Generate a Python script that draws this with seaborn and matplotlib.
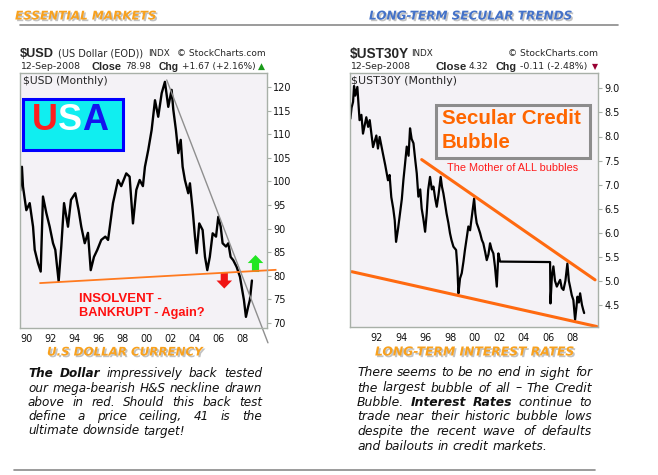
import matplotlib
matplotlib.use("Agg")
import matplotlib.pyplot as plt
import matplotlib.patheffects as pe
from matplotlib.patches import Rectangle, FancyArrow
import seaborn as sns

# ---------------- data ----------------
usd_years = [1989.45, 1989.6, 1989.69, 1989.97, 1990.25, 1990.53, 1990.67, 1990.94, 1991.17,
             1991.36, 1991.64, 1991.92, 1992.2, 1992.39, 1992.67, 1992.89, 1993.12, 1993.45,
             1993.7, 1994.06, 1994.34, 1994.56, 1994.85, 1995.12, 1995.35, 1995.62, 1995.9,
             1996.23, 1996.57, 1996.8, 1997.21, 1997.63, 1997.9, 1998.32, 1998.6, 1998.88,
             1999.16, 1999.44, 1999.71, 1999.88, 2000.16, 2000.44, 2000.72, 2000.99, 2001.28,
             2001.55, 2001.83, 2002.11, 2002.25, 2002.47, 2002.67, 2002.87, 2003.03, 2003.22,
             2003.5, 2003.64, 2003.87, 2004.06, 2004.2, 2004.42, 2004.7, 2004.9, 2005.09,
             2005.3, 2005.54, 2005.82, 2006.01, 2006.21, 2006.37, 2006.65, 2006.85, 2007.04,
             2007.26, 2007.54, 2007.82, 2007.96, 2008.15, 2008.32, 2008.51, 2008.65, 2008.82]
usd_values = [98.0, 103.1, 98.9, 93.9, 95.4, 90.4, 85.5, 82.7, 80.9,
              96.8, 93.3, 90.4, 86.9, 85.5, 78.8, 86.2, 95.4, 90.4,
              96.1, 97.5, 93.9, 90.4, 86.9, 89.1, 81.2, 84.0, 85.5,
              87.6, 88.3, 87.6, 95.4, 100.3, 99.0, 101.7, 101.0, 91.1,
              98.2, 100.3, 99.0, 103.1, 106.7, 110.9, 117.2, 113.7, 118.7,
              121.1, 115.8, 119.4, 115.2, 110.9, 106.0, 108.8, 103.1, 100.3,
              97.5, 99.6, 93.9, 88.3, 84.8, 91.1, 89.7, 84.0, 81.2,
              84.0, 89.0, 88.3, 92.5, 90.4, 86.9, 86.2, 86.9, 84.0,
              83.3, 81.9, 79.8, 77.7, 74.9, 71.3, 73.5, 74.9, 79.0]

ust_years = [1989.85, 1989.95, 1990.07, 1990.15, 1990.25, 1990.42, 1990.6, 1990.75, 1990.88,
             1991.15, 1991.3, 1991.43, 1991.7, 1991.97, 1992.1, 1992.24, 1992.51, 1992.7,
             1992.92, 1993.05, 1993.19, 1993.35, 1993.47, 1993.58, 1993.75, 1993.9, 1994.05,
             1994.18, 1994.3, 1994.45, 1994.6, 1994.72, 1994.85, 1995.0, 1995.15, 1995.27,
             1995.4, 1995.55, 1995.67, 1995.8, 1995.95, 1996.08, 1996.2, 1996.35, 1996.5,
             1996.63, 1996.78, 1996.9, 1997.05, 1997.22, 1997.33, 1997.44, 1997.58, 1997.7,
             1997.85, 1997.98, 1998.1, 1998.26, 1998.48, 1998.58, 1998.67, 1998.8, 1998.94,
             1999.08, 1999.2, 1999.35, 1999.48, 1999.62, 1999.76, 1999.95, 2000.05, 2000.16,
             2000.3, 2000.44, 2000.58, 2000.7, 2000.85, 2000.98, 2001.12, 2001.25, 2001.38,
             2001.52, 2001.65, 2001.8, 2001.93, 2002.07, 2006.15, 2006.18, 2006.3, 2006.42,
             2006.55, 2006.7, 2006.83, 2006.97, 2007.1, 2007.24, 2007.4, 2007.56, 2007.68,
             2007.78, 2007.92, 2008.05, 2008.19, 2008.3, 2008.38, 2008.5, 2008.6, 2008.75,
             2008.85, 2008.93]
ust_values = [8.37, 8.6, 8.72, 9.05, 8.85, 9.03, 8.34, 8.45, 8.06,
              8.40, 8.2, 8.34, 7.78, 8.02, 7.75, 7.99, 7.64, 7.4,
              7.09, 7.2, 6.74, 6.5, 6.26, 5.81, 6.1, 6.40, 6.7,
              7.1, 7.4, 7.79, 7.6, 8.17, 7.95, 7.86, 7.5, 7.23,
              6.75, 6.9, 6.5, 6.3, 6.02, 6.4, 6.89, 7.16, 6.9,
              6.96, 6.7, 6.54, 6.8, 7.16, 6.95, 6.82, 6.6, 6.4,
              6.2, 5.99, 5.85, 5.71, 5.64, 5.3, 4.74, 5.05, 5.16,
              5.4, 5.64, 5.9, 6.13, 6.05, 6.33, 6.71, 6.4, 6.2,
              6.1, 5.99, 5.85, 5.78, 5.6, 5.43, 5.55, 5.78, 5.65,
              5.57, 5.3, 4.88, 5.57, 5.40, 5.39, 4.53, 5.1, 5.30,
              5.0, 4.88, 4.95, 5.02, 4.85, 4.81, 5.0, 5.36, 5.0,
              4.88, 4.7, 4.6, 4.19, 4.45, 4.67, 4.55, 4.74, 4.5,
              4.4, 4.33]

usd_neckline_x = [1991.06, 2010.87]
usd_neckline_y = [78.45, 81.27]
usd_downtrend_x = [2001.7, 2010.16]
usd_downtrend_y = [121.5, 65.8]
ust_upper_x = [1995.67, 2009.82]
ust_upper_y = [7.52, 5.02]
ust_lower_x = [1989.96, 2009.96]
ust_lower_y = [5.19, 4.05]

usd_yticks = [70, 75, 80, 85, 90, 95, 100, 105, 110, 115, 120]
usd_xticks = [1990, 1992, 1994, 1996, 1998, 2000, 2002, 2004, 2006, 2008]
usd_xlabels = ["90", "92", "94", "96", "98", "00", "02", "04", "06", "08"]
ust_yticks = [4.5, 5.0, 5.5, 6.0, 6.5, 7.0, 7.5, 8.0, 8.5, 9.0]
ust_xticks = [1992, 1994, 1996, 1998, 2000, 2002, 2004, 2006, 2008]
ust_xlabels = ["92", "94", "96", "98", "00", "02", "04", "06", "08"]

left_par = [[("The", True), ("Dollar", True), ("impressively", False), ("back", False), ("tested", False)],
            [("our", False), ("mega-bearish", False), ("H&S", False), ("neckline", False), ("drawn", False)],
            [("above", False), ("in", False), ("red.", False), (" Should", False), ("this", False), ("back", False), ("test", False)],
            [("define", False), ("a", False), ("price", False), ("ceiling,", False), ("41", False), ("is", False), ("the", False)],
            [("ultimate", False), ("downside", False), ("target!", False)]]
right_par = [[("There", False), ("seems", False), ("to", False), ("be", False), ("no", False), ("end", False), ("in", False), ("sight", False), ("for", False)],
             [("the", False), ("largest", False), ("bubble", False), ("of", False), ("all", False), ("–", False), ("The", False), ("Credit", False)],
             [("Bubble.", False), (" Interest", True), ("Rates", True), ("continue", False), ("to", False)],
             [("trade", False), ("near", False), ("their", False), ("historic", False), ("bubble", False), ("lows", False)],
             [("despite", False), ("the", False), ("recent", False), ("wave", False), ("of", False), ("defaults", False)],
             [("and", False), ("bailouts", False), ("in", False), ("credit", False), ("markets.", False)]]

# ---------------- figure ----------------
sns.set_style("white")
plt.rcParams["font.family"] = ["DejaVu Sans"]
W, H = 658, 475
fig = plt.figure(figsize=(W / 100, H / 100), dpi=100, facecolor="white")
renderer = fig.canvas.get_renderer()


def px(x, y):
    return x / W, 1 - y / H


def fit_text(s, x0, x1, yc, base=8.0, **kw):
    t = fig.text(*px(x0, yc), s, fontsize=base, va="center", ha="left", **kw)
    w = t.get_window_extent(renderer).width
    t.set_fontsize(base * (x1 - x0) / w)
    return t


BG = "#F4F2F6"
SPINE = "#A8B0A8"
ax1 = fig.add_axes([20 / W, 1 - 328 / H, 247 / W, 255 / H])
ax2 = fig.add_axes([350 / W, 1 - 327 / H, 248 / W, 254 / H])
for ax in (ax1, ax2):
    ax.set_facecolor(BG)
    for s in ax.spines.values():
        s.set_color(SPINE)
        s.set_linewidth(1.0)
    ax.yaxis.tick_right()
    ax.tick_params(axis="both", length=3, width=0.8, color=SPINE, labelsize=7,
                   pad=1.5, labelcolor="#111111")

sns.lineplot(x=usd_years, y=usd_values, ax=ax1, color="black", linewidth=1.7,
             estimator=None, sort=False)
ax1.plot(usd_neckline_x, usd_neckline_y, color="#FF7A1F", lw=1.3, clip_on=False, solid_capstyle="butt")
ax1.plot(usd_downtrend_x, usd_downtrend_y, color="#8F8F8F", lw=1.0, clip_on=False)
ax1.set_xlim(1989.44, 2010.08)
ax1.set_ylim(68.94, 122.97)
ax1.set_yticks(usd_yticks)
ax1.set_yticklabels([str(v) for v in usd_yticks])
ax1.set_xticks(usd_xticks)
ax1.set_xticklabels(usd_xlabels)

# arrows (data coords)
ax1.add_patch(FancyArrow(2009.12, 80.8, 0, 3.6, width=0.6, head_width=1.3, head_length=1.7,
                         length_includes_head=True, color="#22E622", clip_on=False, lw=0))
ax1.add_patch(FancyArrow(2006.51, 80.6, 0, -3.3, width=0.6, head_width=1.3, head_length=1.7,
                         length_includes_head=True, color="#F01414", clip_on=False, lw=0))

sns.lineplot(x=ust_years, y=ust_values, ax=ax2, color="black", linewidth=1.6,
             estimator=None, sort=False)
ax2.plot(ust_upper_x, ust_upper_y, color="#FF6A10", lw=2.2, clip_on=False)
ax2.plot(ust_lower_x, ust_lower_y, color="#FF6A10", lw=2.2, clip_on=False)
ax2.set_xlim(1989.82, 2010.06)
ax2.set_ylim(4.04, 9.32)
ax2.set_yticks(ust_yticks)
ax2.set_yticklabels([f"{v:.1f}" for v in ust_yticks])
ax2.set_xticks(ust_xticks)
ax2.set_xticklabels(ust_xlabels)
for ax in (ax1, ax2):
    ax.set_xlabel("")
    ax.set_ylabel("")

# ---------------- decorations ----------------
fig.add_artist(plt.Line2D([20 / W, 618 / W], [1 - 25 / H, 1 - 25 / H], color="#8A8A8A", lw=1.2))
fig.add_artist(plt.Line2D([14 / W, 595 / W], [1 - 470 / H, 1 - 470 / H], color="#8A8A8A", lw=1.2))

shadow = [pe.withSimplePatchShadow(offset=(1.2, -1.2), shadow_rgbFace="#9A9A9A", alpha=0.6)]
ORANGE = "#F8A11E"
fit_text("ESSENTIAL MARKETS", 15, 157, 16, weight="bold", style="italic", color=ORANGE, path_effects=shadow)
fit_text("LONG-TERM SECULAR TRENDS", 369, 573, 16, weight="bold", style="italic", color="#4472C8", path_effects=shadow)
fit_text("U.S DOLLAR CURRENCY", 47, 203, 352, weight="bold", style="italic", color=ORANGE, path_effects=shadow)
fit_text("LONG-TERM INTEREST RATES", 375, 575, 352, weight="bold", style="italic", color=ORANGE, path_effects=shadow)

# chart headers
R1, R2 = 54, 66.5
fit_text("\\$USD", 20, 54, R1, family="Liberation Sans", weight="bold")
fit_text("(US Dollar (EOD))", 58, 143, R1)
fit_text("INDX", 148, 170, R1)
fit_text("© StockCharts.com", 177, 266, R1)
fit_text("12-Sep-2008", 20, 80.5, R2)
fit_text("Close", 92, 122, R2, family="Liberation Sans", weight="bold")
fit_text("78.98", 125.5, 151.5, R2)
fit_text("Chg", 158.5, 178.5, R2, family="Liberation Sans", weight="bold")
fit_text("+1.67 (+2.16%)", 182, 255.5, R2)
fit_text("▲", 258, 265, R2, color="#1A9A1A")

fit_text("\\$UST30Y", 350, 409, R1, family="Liberation Sans", weight="bold")
fit_text("INDX", 411, 433, R1)
fit_text("© StockCharts.com", 508, 598, R1)
fit_text("12-Sep-2008", 350, 410, R2)
fit_text("Close", 435, 466, R2, family="Liberation Sans", weight="bold")
fit_text("4.32", 469, 489, R2)
fit_text("Chg", 496, 517, R2, family="Liberation Sans", weight="bold")
fit_text("-0.11 (-2.48%)", 520, 588, R2)
fit_text("▼", 592, 598, R2, color="#990033")

fit_text("\\$USD (Monthly)", 23, 108, 81)
fit_text("\\$UST30Y (Monthly)", 351, 457, 81)

# USA box
fig.add_artist(Rectangle(px(22.5, 149.5), 100.5 / W, 51 / H, transform=fig.transFigure,
                         facecolor="#10EEF0", edgecolor="#0000FF", lw=2.2))
usa_size = 28
parts = [("U", "#FF1E1E"), ("S", "#FFFFFF"), ("A", "#1414EE")]
tmp = fig.text(0, 0, "USA", fontsize=usa_size, family="Liberation Sans", weight="bold")
wfull = tmp.get_window_extent(renderer).width
tmp.remove()
usa_size = usa_size * 76 / wfull
xcur = 32
for ch, col in parts:
    t = fig.text(*px(xcur, 121), ch, fontsize=usa_size, family="Liberation Sans", weight="bold",
                 color=col, va="center", ha="left")
    xcur += t.get_window_extent(renderer).width

fit_text("INSOLVENT -", 79, 162, 299, family="Liberation Sans", weight="bold", color="#FF1010")
fit_text("BANKRUPT - Again?", 79, 205, 313, family="Liberation Sans", weight="bold", color="#FF1010")

# Secular credit bubble box
fig.add_artist(Rectangle(px(436, 158), 154 / W, 53 / H, transform=fig.transFigure,
                         facecolor=BG, edgecolor="#8C8C8C", lw=2.2))
fit_text("Secular Credit", 442, 582, 118, family="Liberation Sans", weight="bold", color="#FF6600")
fit_text("Bubble", 442, 511, 143, family="Liberation Sans", weight="bold", color="#FF6600")
fit_text("The Mother of ALL bubbles", 447, 578, 168, family="Liberation Sans", color="#FF1A1A")


# ---------------- paragraphs ----------------
def paragraph(lines, x0, x1, ys, fill=0.99):
    # font size: the widest line at natural spacing just fits the column
    sizes = []
    for words in lines[:-1]:
        s = " ".join(w.strip() for w, _ in words)
        t = fig.text(0, 0, s, fontsize=8, style="italic")
        sizes.append(8 * fill * (x1 - x0) / t.get_window_extent(renderer).width)
        t.remove()
    fs = min(sizes)
    sp = fig.text(0, 0, "a a", fontsize=fs, style="italic")
    sw = sp.get_window_extent(renderer).width
    sp.remove()
    sp = fig.text(0, 0, "aa", fontsize=fs, style="italic")
    sw -= sp.get_window_extent(renderer).width
    sp.remove()
    for i, (words, y) in enumerate(zip(lines, ys)):
        texts = []
        for w, b in words:
            texts.append(fig.text(0, 0, w.strip(), fontsize=fs, style="italic",
                                  weight="bold" if b else "normal", color="#111111",
                                  va="center", ha="left"))
        widths = [tt.get_window_extent(renderer).width for tt in texts]
        if i < len(lines) - 1 and len(texts) > 1:
            gap = (x1 - x0 - sum(widths)) / (len(texts) - 1)
        else:
            gap = sw
        xc = x0
        for tt, wd in zip(texts, widths):
            tt.set_position(px(xc, y))
            xc += wd + gap


paragraph(left_par, 28, 262, [373.3, 388.3, 402.7, 416.7, 431])
paragraph(right_par, 357, 592, [373, 388, 402.5, 417, 431.5, 446])

fig.savefig("out.png", dpi=100, facecolor="white")
